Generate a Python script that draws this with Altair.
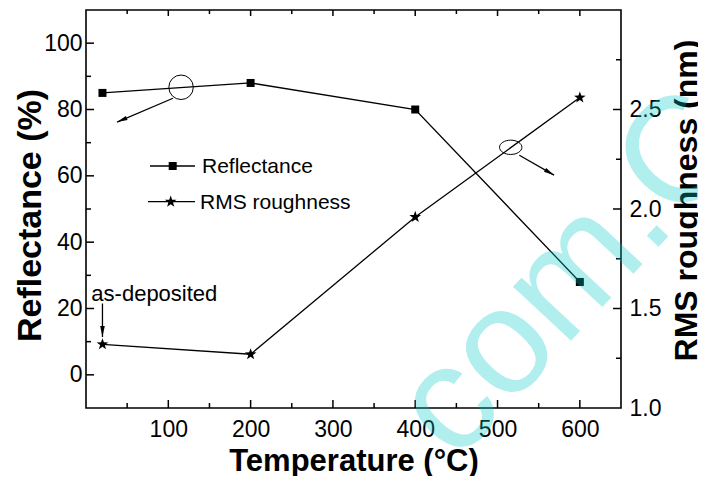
import altair as alt
import pandas as pd

# ---- data ----
temperature = [20, 200, 400, 600]
reflectance = [85, 88, 80, 28]
rms_roughness = [1.32, 1.27, 1.96, 2.56]

x_major = [100, 200, 300, 400, 500, 600]
x_minor = [50, 150, 250, 350, 450, 550]
refl_major = [0, 20, 40, 60, 80, 100]
refl_minor = [10, 30, 50, 70, 90]
rms_labels = [1.0, 1.5, 2.0, 2.5]
rms_major = [1.5, 2.0, 2.5]
rms_minor = [1.25, 1.75, 2.25, 2.75]

legend_labels = ["Reflectance", "RMS roughness"]
note_text = ["as-deposited"]
watermark = ["com.Cn"]

W, H = 535, 398
FONT = "Liberation Sans"
TICK_COLOR = "black"
STAR = ("M0,-1L0.235,-0.324L0.951,-0.309L0.38,0.124L0.588,0.809L0,0.4"
        "L-0.588,0.809L-0.38,0.124L-0.951,-0.309L-0.235,-0.324Z")
ELLIPSE = "M-1,0A1,0.64,0,1,1,1,0A1,0.64,0,1,1,-1,0Z"
HEAD = "M0,0L0.42,2L-0.42,2Z"

df = pd.DataFrame({"T": temperature, "R": reflectance, "M": rms_roughness})

xs = alt.Scale(domain=[0, 650], nice=False, zero=False)
ys_r = alt.Scale(domain=[-10, 110], nice=False, zero=False)
ys_m = alt.Scale(domain=[1.0, 3.0], nice=False, zero=False)


def xnone(field="T"):
    return alt.X(f"{field}:Q", scale=xs, axis=None)


def yr_none(field="R"):
    return alt.Y(f"{field}:Q", scale=ys_r, axis=None)


def ym_none(field="M"):
    return alt.Y(f"{field}:Q", scale=ys_m, axis=None)


# ---- data layers ----
refl_line = alt.Chart(df).mark_line(color="black", strokeWidth=1.3).encode(
    x=alt.X("T:Q", scale=xs, axis=alt.Axis(
        orient="bottom", values=x_major, ticks=False, domain=False,
        labelPadding=10, labelOverlap=False,
        title="Temperature (°C)", titleFontSize=31, titleY=62,
        titleBaseline="alphabetic")),
    y=alt.Y("R:Q", scale=ys_r, axis=alt.Axis(
        orient="left", values=refl_major, ticks=False, domain=False,
        labelPadding=4, labelOverlap=False,
        title="Reflectance (%)", titleFontSize=34, titleAngle=270,
        titleX=-46, titleY=205, titleAlign="center",
        titleBaseline="alphabetic")),
)
refl_pts = alt.Chart(df).mark_point(shape="square", filled=True, size=64,
                                    color="black", opacity=1).encode(
    x=xnone(), y=yr_none())

rms_line = alt.Chart(df).mark_line(color="black", strokeWidth=1.3).encode(
    x=xnone(),
    y=alt.Y("M:Q", scale=ys_m, axis=alt.Axis(
        orient="right", values=rms_labels, format=".1f", ticks=False,
        domain=False, labelPadding=8, labelOverlap=False,
        title="RMS roughness (nm)", titleFontSize=32, titleAngle=270,
        titleX=75, titleY=190, titleAlign="center",
        titleBaseline="alphabetic")),
)
rms_pts = alt.Chart(df).mark_point(shape=STAR, filled=True, size=150,
                                   color="black", opacity=1).encode(
    x=xnone(), y=ym_none())


# ---- inward ticks drawn from the tick arrays through the scales ----
def xticks(vals, size, top):
    d = pd.DataFrame({"v": vals})
    y0, y1 = (0, size) if top else (H, H - size)
    return alt.Chart(d).mark_rule(color=TICK_COLOR, strokeWidth=1.5).encode(
        x=xnone("v"), y=alt.value(y0), y2=alt.value(y1))


def yticks(vals, scale, size, right):
    d = pd.DataFrame({"v": vals})
    x0, x1 = (W, W - size) if right else (0, size)
    return alt.Chart(d).mark_rule(color=TICK_COLOR, strokeWidth=1.5).encode(
        y=alt.Y("v:Q", scale=scale, axis=None),
        x=alt.value(x0), x2=alt.value(x1))


ticks = [
    xticks(x_major, 8, False), xticks(x_minor, 5, False),
    xticks(x_major, 6, True), xticks(x_minor, 4, True),
    yticks(refl_major, ys_r, 8, False), yticks(refl_minor, ys_r, 5, False),
    yticks(rms_major, ys_m, 8, True), yticks(rms_minor, ys_m, 5, True),
]

# ---- annotations ----
circ = alt.Chart(pd.DataFrame({"T": [115.5], "R": [86.7]})).mark_point(
    shape="circle", size=600, color="black", strokeWidth=1, opacity=1
).encode(x=xnone(), y=yr_none())

arrow1 = pd.DataFrame({"T": [105.7], "T2": [37.7], "R": [83.4], "R2": [76.2]})
arr1_line = alt.Chart(arrow1).mark_rule(color="black", strokeWidth=1.3).encode(
    x=xnone(), x2="T2:Q", y=yr_none(), y2="R2:Q")
arr1_head = alt.Chart(arrow1).mark_point(shape=HEAD, filled=True, size=110,
                                         angle=247, color="black", opacity=1
                                         ).encode(x=xnone("T2"), y=yr_none("R2"))

ell = alt.Chart(pd.DataFrame({"T": [516], "M": [2.31]})).mark_point(
    shape=ELLIPSE, size=500, color="black", strokeWidth=1, opacity=1
).encode(x=xnone(), y=ym_none())

arrow2 = pd.DataFrame({"T": [526.5], "T2": [568.7], "M": [2.27], "M2": [2.17]})
arr2_line = alt.Chart(arrow2).mark_rule(color="black", strokeWidth=1.3).encode(
    x=xnone(), x2="T2:Q", y=ym_none(), y2="M2:Q")
arr2_head = alt.Chart(arrow2).mark_point(shape=HEAD, filled=True, size=110,
                                         angle=121, color="black", opacity=1
                                         ).encode(x=xnone("T2"), y=ym_none("M2"))

note = pd.DataFrame({"T": [6.5], "R": [22.4], "label": note_text})
note_txt = alt.Chart(note).mark_text(align="left", baseline="alphabetic",
                                     font=FONT, fontSize=22, color="black"
                                     ).encode(x=xnone(), y=yr_none(),
                                              text="label:N")
arrow3 = pd.DataFrame({"T": [20], "R": [21.5], "R2": [11.4]})
arr3_line = alt.Chart(arrow3).mark_rule(color="black", strokeWidth=1.3).encode(
    x=xnone(), y=yr_none(), y2="R2:Q")
arr3_head = alt.Chart(arrow3).mark_point(shape=HEAD, filled=True, size=121,
                                         angle=180, color="black", opacity=1
                                         ).encode(x=xnone(), y=yr_none("R2"))

# ---- manual legend ----
leg1 = pd.DataFrame({"label": [legend_labels[0]]})
leg2 = pd.DataFrame({"label": [legend_labels[1]]})
leg_layers = [
    alt.Chart(leg1).mark_rule(color="black", strokeWidth=1.3).encode(
        x=alt.value(64), x2=alt.value(109), y=alt.value(156)),
    alt.Chart(leg1).mark_point(shape="square", filled=True, size=64,
                               color="black", opacity=1).encode(
        x=alt.value(86.7), y=alt.value(156)),
    alt.Chart(leg1).mark_text(align="left", baseline="middle", font=FONT,
                              fontSize=21, color="black").encode(
        x=alt.value(116), y=alt.value(157), text="label:N"),
    alt.Chart(leg2).mark_rule(color="black", strokeWidth=1.3).encode(
        x=alt.value(62), x2=alt.value(109), y=alt.value(191.7)),
    alt.Chart(leg2).mark_point(shape=STAR, filled=True, size=150,
                               color="black", opacity=1).encode(
        x=alt.value(84.7), y=alt.value(191.7)),
    alt.Chart(leg2).mark_text(align="left", baseline="middle", font=FONT,
                              fontSize=21, color="black").encode(
        x=alt.value(114), y=alt.value(192.7), text="label:N"),
]

wm = alt.Chart(pd.DataFrame({"label": watermark})).mark_text(
    align="left", baseline="alphabetic", font=FONT, fontSize=150, angle=313,
    color="#00caca", opacity=0.3
).encode(x=alt.value(370), y=alt.value(454), text="label:N")

layers = ([refl_line, refl_pts, rms_line, rms_pts] + ticks +
          [circ, arr1_line, arr1_head, ell, arr2_line, arr2_head,
           note_txt, arr3_line, arr3_head] + leg_layers + [wm])

chart = alt.layer(*layers).resolve_scale(y="independent").resolve_axis(
    x="independent", y="independent"
).properties(
    width=W, height=H,
    autosize=alt.AutoSizeParams(type="none"),
    padding={"left": 78, "top": 2, "right": 77, "bottom": 68},
).configure_view(
    stroke="black", strokeWidth=1.6
).configure_axis(
    labelFont=FONT, labelFontSize=23, labelColor="black",
    titleFont=FONT, titleColor="black", titleFontWeight="bold",
    grid=False,
)

chart.save("out.html", embed_options={"renderer": "svg", "actions": False})
